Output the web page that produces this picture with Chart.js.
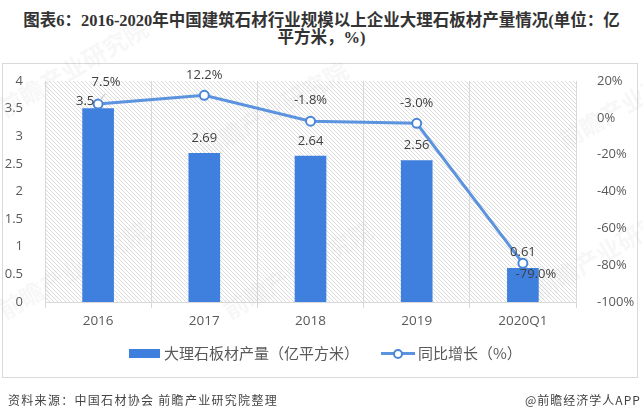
<!DOCTYPE html>
<html lang="zh-CN">
  <head>
    <meta charset="utf-8" />
    <title>大理石板材产量情况</title>
    <script src="https://cdn.jsdelivr.net/npm/chart.js/dist/chart.umd.min.js"></script>
    <style>
      * {
        margin: 0;
        padding: 0;
        box-sizing: border-box;
      }
      body {
        width: 643px;
        height: 420px;
        background: #fff;
        position: relative;
        overflow: hidden;
        font-family: "Noto Sans CJK SC", sans-serif;
      }
      #title {
        position: absolute;
        left: 0;
        top: 12px;
        width: 643px;
        text-align: center;
        font: bold 16.5px/17px "Liberation Serif", "Noto Sans CJK SC", serif;
        color: #333;
        white-space: nowrap;
      }
      #frame {
        position: absolute;
        left: 2px;
        top: 63px;
        width: 636px;
        height: 315px;
        border: 1px solid #d9d9d9;
      }
      #chartBox {
        position: absolute;
        left: 0;
        top: 0;
        width: 643px;
        height: 420px;
      }
      .legend {
        position: absolute;
        top: 343px;
        font-size: 15px;
        line-height: 20px;
        color: #595959;
        white-space: nowrap;
      }
      #swatchBar {
        position: absolute;
        left: 129px;
        top: 349px;
        width: 31px;
        height: 9px;
        background: #3f7fdd;
      }
      #swatchLine {
        position: absolute;
        left: 381px;
        top: 352px;
        width: 34px;
        height: 3px;
        background: #5b93de;
      }
      #swatchDot {
        position: absolute;
        left: 393px;
        top: 349px;
        width: 10px;
        height: 10px;
        border: 2px solid #4a86d8;
        border-radius: 50%;
        background: #fff;
      }
      .foot {
        position: absolute;
        top: 391px;
        font-size: 12px;
        line-height: 18px;
        color: #444;
        white-space: nowrap;
      }
    </style>
  </head>
  <body>
    <div id="title">图表6：2016-2020年中国建筑石材行业规模以上企业大理石板材产量情况(单位：亿<br />平方米，%)</div>
    <div id="frame"></div>
    <div id="chartBox"><canvas id="myChart" width="643" height="420"></canvas></div>
    <div id="swatchBar"></div>
    <div class="legend" style="left: 164px">大理石板材产量（亿平方米）</div>
    <div id="swatchLine"></div>
    <div id="swatchDot"></div>
    <div class="legend" style="left: 418px">同比增长（%）</div>
    <div class="foot" style="left: 8px; letter-spacing: 1.3px">资料来源：中国石材协会 前瞻产业研究院整理</div>
    <div class="foot" style="left: 525px; letter-spacing: 1px">@前瞻经济学人APP</div>

    <script>
      const categories = ["2016", "2017", "2018", "2019", "2020Q1"];
      const output = [3.5, 2.69, 2.64, 2.56, 0.61];
      const growth = [7.5, 12.2, -1.8, -3.0, -79.0];
      const outputLabels = ["3.5", "2.69", "2.64", "2.56", "0.61"];
      const growthLabels = ["7.5%", "12.2%", "-1.8%", "-3.0%", "-79.0%"];

      const textColor = "#595959";
      const gridColor = "#d9d9d9";

      // diagonal hatch behind the plot
      const makeHatch = (ctx) => {
        const c = document.createElement("canvas");
        c.width = 4;
        c.height = 4;
        const p = c.getContext("2d");
        p.strokeStyle = "#dcdcdc";
        p.lineWidth = 1;
        p.beginPath();
        p.moveTo(-1, -1);
        p.lineTo(5, 5);
        p.moveTo(3, -1);
        p.lineTo(5, 1);
        p.moveTo(-1, 3);
        p.lineTo(1, 5);
        p.stroke();
        return ctx.createPattern(c, "repeat");
      };

      const hatchPlugin = {
        id: "hatch",
        beforeDraw: function (chart) {
          const a = chart.chartArea;
          const ctx = chart.ctx;
          ctx.save();
          ctx.fillStyle = makeHatch(ctx);
          ctx.fillRect(a.left, a.top, a.width, a.height);
          ctx.restore();
        },
      };

      // faint site watermarks
      const watermarkPlugin = {
        id: "watermark",
        beforeDatasetsDraw: function (chart) {
          const ctx = chart.ctx;
          const spots = [
            [5, 118],
            [205, 160],
            [565, 150],
            [5, 320],
            [230, 320],
            [540, 300],
          ];
          ctx.save();
          ctx.font = "bold 24px 'Noto Sans CJK SC'";
          ctx.fillStyle = "rgba(170,170,170,0.09)";
          spots.forEach((s) => {
            ctx.save();
            ctx.translate(s[0], s[1]);
            ctx.rotate(-Math.PI / 6);
            ctx.fillText("前瞻产业研究院", 0, 0);
            ctx.restore();
          });
          ctx.restore();
        },
      };

      const valueLabelPlugin = {
        id: "valueLabels",
        afterDatasetsDraw: function (chart) {
          const ctx = chart.ctx;
          const bars = chart.getDatasetMeta(0).data;
          const pts = chart.getDatasetMeta(1).data;
          // label offsets, first and last points dodge each other
          const barDx = [-13, 0, 0, 0, 0];
          const barDy = [-7, -15, -15, -15, -16];
          const lineDx = [8, 0, 0, 0, 13];
          const lineDy = [-22, -20, -21, -20, 11];

          ctx.save();
          ctx.strokeStyle = "#b5b5b5";
          ctx.lineWidth = 1;
          ctx.beginPath();
          ctx.moveTo(pts[0].x + 7, pts[0].y - 10);
          ctx.lineTo(pts[0].x + 2, pts[0].y - 4);
          ctx.stroke();

          ctx.font = "13px 'Open Sans'";
          ctx.fillStyle = "#404040";
          ctx.textAlign = "center";
          ctx.textBaseline = "middle";
          bars.forEach((b, i) => {
            ctx.fillText(outputLabels[i], b.x + barDx[i], b.y + barDy[i]);
          });
          pts.forEach((p, i) => {
            ctx.fillText(growthLabels[i], p.x + lineDx[i], p.y + lineDy[i]);
          });
          ctx.restore();
        },
      };

      const config = {
        data: {
          labels: categories,
          datasets: [
            {
              type: "bar",
              data: output,
              yAxisID: "y",
              backgroundColor: "#3f7fdd",
              barThickness: 31,
              order: 2,
            },
            {
              type: "line",
              data: growth,
              yAxisID: "y1",
              borderColor: "#5b93de",
              borderWidth: 3,
              pointRadius: 4.5,
              pointBorderWidth: 2,
              pointBorderColor: "#4a86d8",
              pointBackgroundColor: "#fff",
              tension: 0,
              order: 1,
            },
          ],
        },
        options: {
          responsive: false,
          animation: false,
          devicePixelRatio: 1,
          layout: { padding: { top: 81 } },
          plugins: {
            legend: { display: false },
            tooltip: { enabled: false },
          },
          scales: {
            x: {
              offset: true,
              grid: { color: gridColor, offset: true, tickLength: 6 },
              border: { color: gridColor },
              ticks: {
                color: textColor,
                font: { family: "Open Sans", size: 13.5 },
                padding: 5,
                maxRotation: 0,
              },
              afterFit: function (scale) {
                scale.height = 118;
              },
            },
            y: {
              position: "left",
              min: 0,
              max: 4,
              grid: { display: false },
              border: { display: false },
              ticks: {
                stepSize: 0.5,
                color: textColor,
                font: { family: "Open Sans", size: 13 },
                padding: 14,
                callback: (v) => String(v),
              },
              afterFit: function (scale) {
                scale.width = 45;
              },
            },
            y1: {
              position: "right",
              min: -100,
              max: 20,
              grid: { display: false },
              border: { display: false },
              ticks: {
                stepSize: 20,
                color: textColor,
                font: { family: "Open Sans", size: 13 },
                padding: 13,
                callback: (v) => v + "%",
              },
              afterFit: function (scale) {
                scale.width = 67;
              },
            },
          },
        },
        plugins: [hatchPlugin, watermarkPlugin, valueLabelPlugin],
      };

      var myChart = new Chart(document.getElementById("myChart"), config);
    </script>
  </body>
</html>
